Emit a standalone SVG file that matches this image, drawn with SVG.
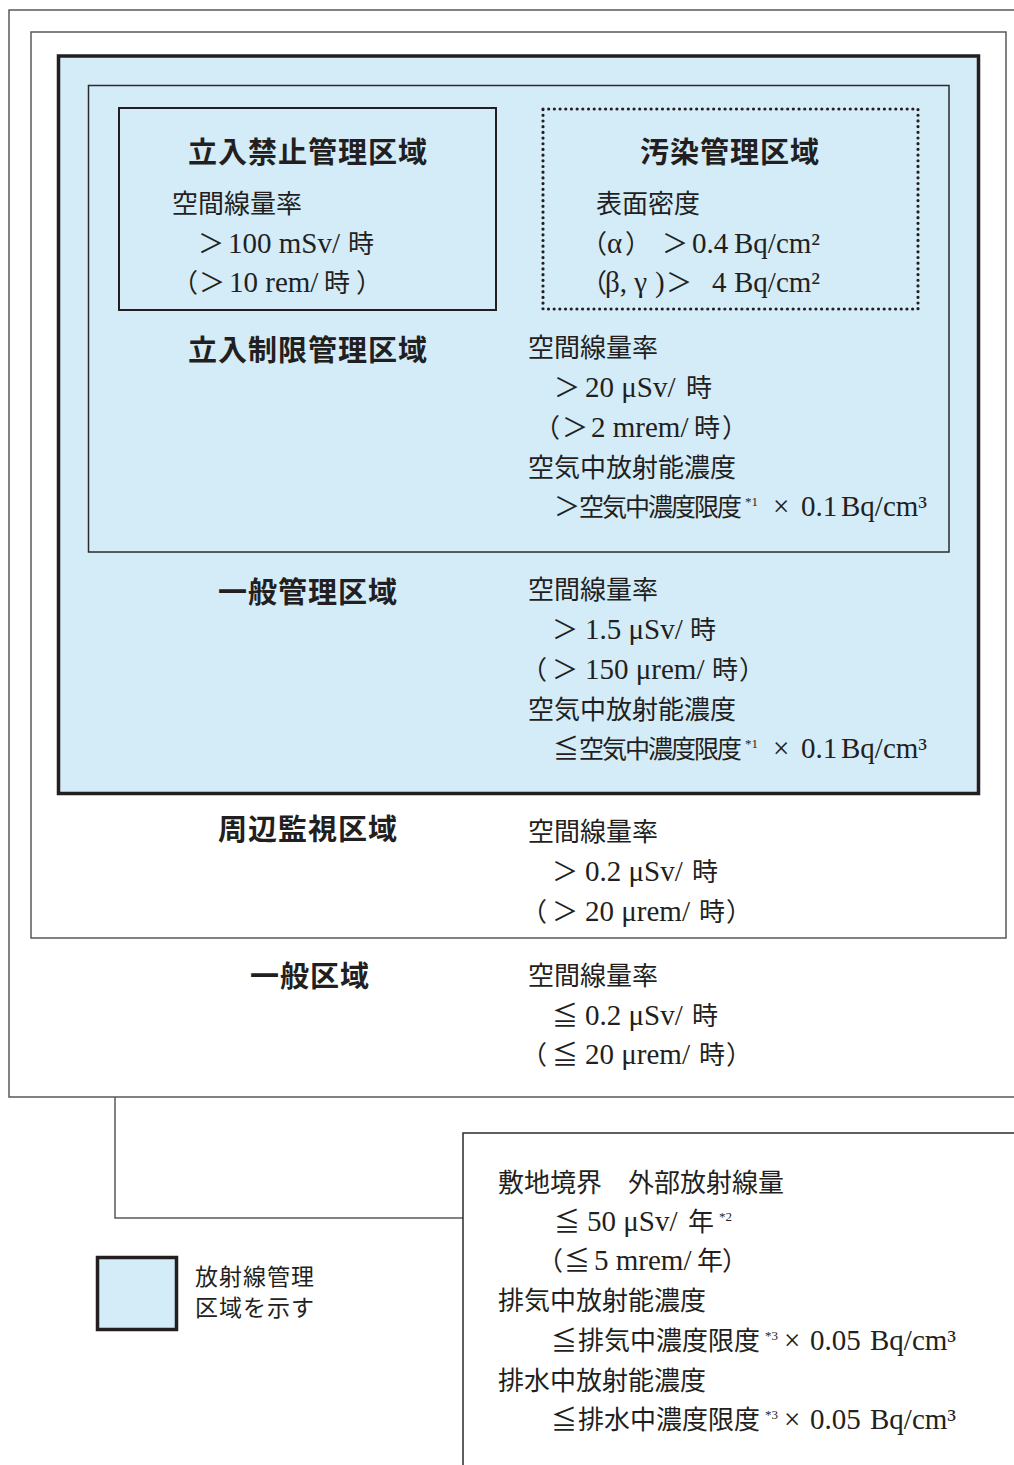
<svg xmlns="http://www.w3.org/2000/svg" width="1014" height="1465" viewBox="0 0 1014 1465">
<style>
.h{font-family:"Noto Sans CJK JP",sans-serif;font-weight:700;font-size:29px;fill:#231f20;letter-spacing:1px}
.t{font-family:"Liberation Serif","Noto Sans CJK JP",serif;font-size:26px;fill:#231f20}
.l{font-size:29px}
.s{font-size:13px}
.c{font-size:25px;letter-spacing:-2px}
.g{font-family:"Noto Sans CJK JP",sans-serif;font-size:23px;fill:#231f20;letter-spacing:1px}
.thin{fill:none;stroke:#58595b;stroke-width:1.5}
.blue{fill:#d4ebf8}
.thick{stroke:#231f20;stroke-width:3.5}
</style>
<rect width="1014" height="1465" fill="#fff"/>
<g id="outer-area">
<rect x="9" y="10" width="1030" height="1087" class="thin"/>
</g>
<g id="shuhen-kanshi-kuiki">
<rect x="31" y="32" width="975" height="906" class="thin"/>
<text class="h" x="218" y="840">周辺監視区域</text>
<text class="t" x="528" y="841">空間線量率</text>
<text class="t" y="881"><tspan x="552">＞</tspan><tspan class="l" x="585">0.2 μSv/</tspan><tspan x="692">時</tspan></text>
<text class="t" y="921"><tspan x="521">（</tspan><tspan x="552">＞</tspan><tspan class="l" x="585">20 μrem/</tspan><tspan x="699">時</tspan><tspan x="726">）</tspan></text>
</g>
<g id="ippan-kanri-kuiki">
<rect x="58.5" y="56" width="920" height="737.5" class="blue thick"/>
<text class="h" x="218" y="603">一般管理区域</text>
<text class="t" x="528" y="599">空間線量率</text>
<text class="t" y="639"><tspan x="552">＞</tspan><tspan class="l" x="585">1.5 μSv/</tspan><tspan x="690">時</tspan></text>
<text class="t" y="679"><tspan x="521">（</tspan><tspan x="552">＞</tspan><tspan class="l" x="585">150 μrem/</tspan><tspan x="712">時</tspan><tspan x="739">）</tspan></text>
<text class="t" x="528" y="719">空気中放射能濃度</text>
<text class="t" y="758"><tspan x="553">≦</tspan><tspan class="c" x="579">空気中濃度限度</tspan><tspan class="s" x="745" y="748">*1</tspan><tspan class="l" x="773" y="758">×</tspan><tspan class="l" x="801">0.1</tspan><tspan class="l" x="841">Bq/cm³</tspan></text>
</g>
<g id="tachiiri-seigen-kanri-kuiki">
<rect x="88.5" y="85.5" width="860.5" height="466.5" fill="none" stroke="#2b2b2b" stroke-width="1.5"/>
<text class="h" x="188" y="361">立入制限管理区域</text>
<text class="t" x="528" y="357">空間線量率</text>
<text class="t" y="397"><tspan x="554">＞</tspan><tspan class="l" x="585">20 μSv/</tspan><tspan x="686">時</tspan></text>
<text class="t" y="437"><tspan x="534">（</tspan><tspan x="562">＞</tspan><tspan class="l" x="591">2 mrem/</tspan><tspan x="694">時</tspan><tspan x="722">）</tspan></text>
<text class="t" x="528" y="477">空気中放射能濃度</text>
<text class="t" y="516"><tspan x="554">＞</tspan><tspan class="c" x="579">空気中濃度限度</tspan><tspan class="s" x="745" y="506">*1</tspan><tspan class="l" x="773" y="516">×</tspan><tspan class="l" x="801">0.1</tspan><tspan class="l" x="841">Bq/cm³</tspan></text>
</g>
<g id="tachiiri-kinshi-kanri-kuiki">
<rect x="119" y="108" width="377" height="202" fill="none" stroke="#231f20" stroke-width="2"/>
<text class="h" x="188" y="163">立入禁止管理区域</text>
<text class="t" x="172" y="213">空間線量率</text>
<text class="t" y="253"><tspan x="198">＞</tspan><tspan class="l" x="228">100 mSv/</tspan><tspan x="348">時</tspan></text>
<text class="t" y="292"><tspan x="172">（</tspan><tspan x="199">＞</tspan><tspan class="l" x="229">10 rem/</tspan><tspan x="324">時</tspan><tspan x="356">）</tspan></text>
</g>
<g id="osen-kanri-kuiki">
<rect x="543" y="109" width="375" height="200" fill="none" stroke="#231f20" stroke-width="3.2" stroke-linecap="round" stroke-dasharray="0 5.69"/>
<text class="h" x="640" y="163">汚染管理区域</text>
<text class="t" x="596" y="213">表面密度</text>
<text class="t" y="253"><tspan x="581">（</tspan><tspan class="l" x="607">α</tspan><tspan x="625">）</tspan><tspan x="662">＞</tspan><tspan class="l" x="692">0.4</tspan><tspan class="l" x="734">Bq/cm²</tspan></text>
<text class="t" y="292"><tspan x="581">（</tspan><tspan class="l" x="605">β, γ</tspan><tspan class="l" x="655">)</tspan><tspan x="666">＞</tspan><tspan class="l" x="712">4</tspan><tspan class="l" x="734">Bq/cm²</tspan></text>
</g>
<g id="ippan-kuiki">
<text class="h" x="250" y="987">一般区域</text>
<text class="t" x="528" y="985">空間線量率</text>
<text class="t" y="1025"><tspan x="552">≦</tspan><tspan class="l" x="585">0.2 μSv/</tspan><tspan x="692">時</tspan></text>
<text class="t" y="1064"><tspan x="521">（</tspan><tspan x="552">≦</tspan><tspan class="l" x="585">20 μrem/</tspan><tspan x="699">時</tspan><tspan x="726">）</tspan></text>
</g>
<g id="connectors">
<polyline points="115,1097 115,1218 463,1218" class="thin"/>
</g>
<g id="shikichi-kyokai">
<rect x="463" y="1133" width="600" height="400" fill="none" stroke="#2b2b2b" stroke-width="1.5"/>
<text class="t" x="498" y="1192">敷地境界　外部放射線量</text>
<text class="t" y="1231"><tspan x="554">≦</tspan><tspan class="l" x="587">50 μSv/</tspan><tspan x="688">年</tspan><tspan class="s" x="719" y="1221">*2</tspan></text>
<text class="t" y="1270"><tspan x="537">（</tspan><tspan x="564">≦</tspan><tspan class="l" x="594">5 mrem/</tspan><tspan x="697">年</tspan><tspan x="722">）</tspan></text>
<text class="t" x="498" y="1310">排気中放射能濃度</text>
<text class="t" y="1350"><tspan x="551">≦</tspan><tspan x="578">排気中濃度限度</tspan><tspan class="s" x="765" y="1340">*3</tspan><tspan class="l" x="784" y="1350">×</tspan><tspan class="l" x="810">0.05</tspan><tspan class="l" x="870">Bq/cm³</tspan></text>
<text class="t" x="498" y="1390">排水中放射能濃度</text>
<text class="t" y="1429"><tspan x="551">≦</tspan><tspan x="578">排水中濃度限度</tspan><tspan class="s" x="765" y="1419">*3</tspan><tspan class="l" x="784" y="1429">×</tspan><tspan class="l" x="810">0.05</tspan><tspan class="l" x="870">Bq/cm³</tspan></text>
</g>
<g id="legend">
<rect x="97.5" y="1257.5" width="79" height="72" class="blue thick"/>
<text class="g" x="195" y="1285">放射線管理</text>
<text class="g" x="195" y="1316">区域を示す</text>
</g>
</svg>
